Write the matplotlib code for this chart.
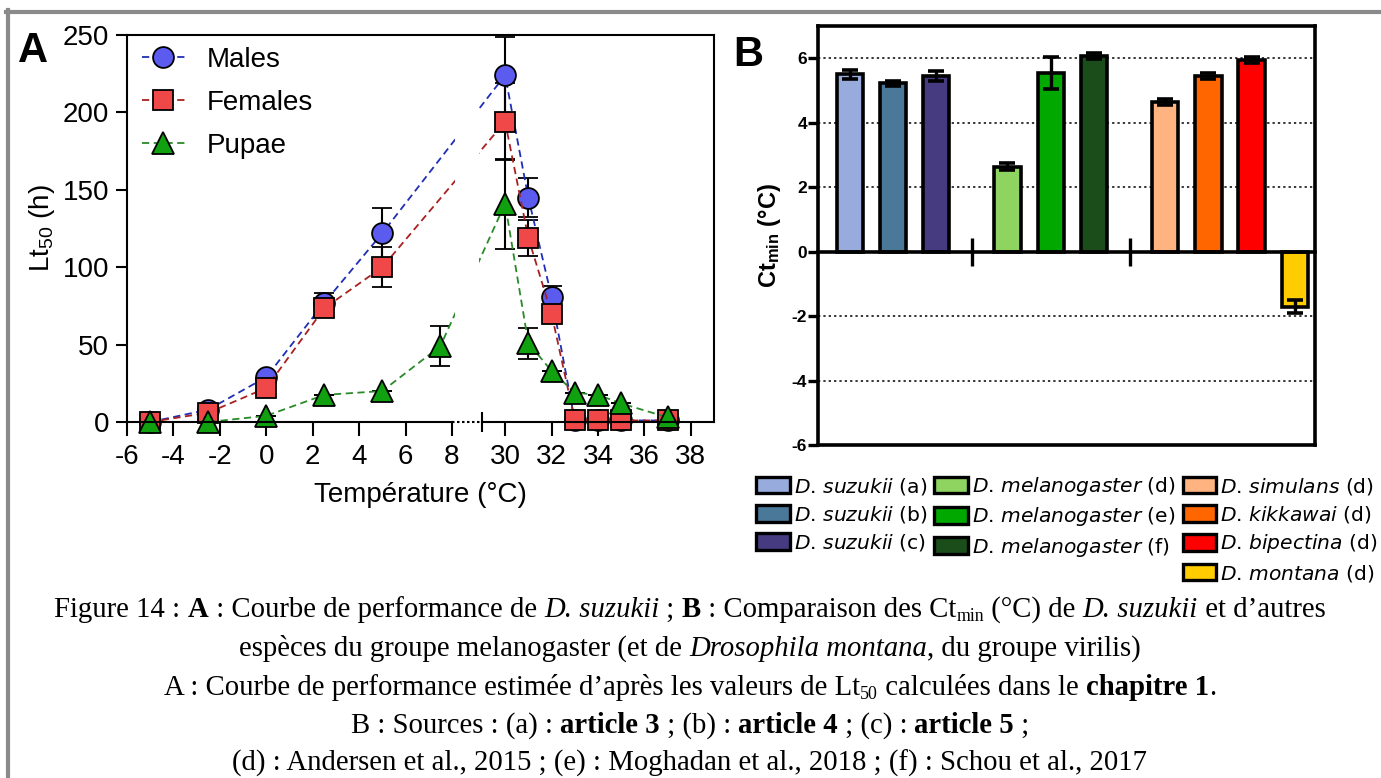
import numpy as np
import matplotlib
matplotlib.use('Agg')
import matplotlib.pyplot as plt
from matplotlib.lines import Line2D
from matplotlib.patches import Patch

plt.rcParams['font.family'] = ['Liberation Sans', 'DejaVu Sans']
plt.rcParams['mathtext.fontset'] = 'custom'
plt.rcParams['mathtext.rm'] = 'Liberation Sans'
plt.rcParams['mathtext.it'] = 'Liberation Sans:italic'
plt.rcParams['mathtext.bf'] = 'Liberation Sans:bold'

# ---- panel A data: Lt50 (h) vs temperature
temp_adults = [-5, -2.5, 0, 2.5, 5, 30, 31, 32, 33, 34, 35, 37]
males = [0, 8, 29, 77, 122, 224, 145, 81, 1, 1, 1, 1]
males_err = [0, 0, 0, 6.5, 16, 25, 12.5, 7, 0, 0, 0, 0]
females = [0, 6, 22, 73.5, 100, 194, 119, 70, 1.3, 1.3, 1, 1]
females_err = [0, 0, 0, 4, 13, 25, 11.5, 5, 0, 0, 0, 0]
temp_pupae = [-5, -2.5, 0, 2.5, 5, 7.5, 30, 31, 32, 33, 34, 35, 37]
pupae = [0, 0, 4, 17.5, 20, 49, 141, 51, 33, 19, 17.5, 12, 3]
pupae_err = [0, 0, 0, 0, 0, 13, 29, 10, 0, 0, 0, 0, 0]
xticks_a = [-6, -4, -2, 0, 2, 4, 6, 8, 30, 32, 34, 36, 38]

# ---- panel B data: Ctmin (°C)
species = ['D. suzukii', 'D. suzukii', 'D. suzukii',
           'D. melanogaster', 'D. melanogaster', 'D. melanogaster',
           'D. simulans', 'D. kikkawai', 'D. bipectina', 'D. montana']
sources = ['a', 'b', 'c', 'd', 'e', 'f', 'd', 'd', 'd', 'd']
ctmin = [5.50, 5.22, 5.44, 2.64, 5.55, 6.07, 4.64, 5.45, 5.94, -1.71]
ctmin_err = [0.15, 0.08, 0.15, 0.10, 0.50, 0.10, 0.10, 0.08, 0.10, 0.20]
group_sizes = [3, 3, 4]
bar_colors = ['#97acdc', '#4a7898', '#463a80', '#8fd460', '#00a800',
              '#1a4d1a', '#ffb380', '#ff6600', '#ff0000', '#ffcc00']

W, H = 1381, 778
fig = plt.figure(figsize=(W / 100, H / 100), dpi=100)


def px_box(l, t, r, b):
    return [l / W, 1 - b / H, (r - l) / W, (b - t) / H]


# broken x axis: 8 .. 29 squeezed into a short gap
LEFT_END, RIGHT_START, GAP_W = 8.0, 29.0, 1.29


def fwd(x):
    x = np.asarray(x, dtype=float)
    return np.where(x <= LEFT_END, x,
                    np.where(x >= RIGHT_START, x - RIGHT_START + LEFT_END + GAP_W,
                             LEFT_END + (x - LEFT_END) * GAP_W / (RIGHT_START - LEFT_END)))


def inv(u):
    u = np.asarray(u, dtype=float)
    return np.where(u <= LEFT_END, u,
                    np.where(u >= LEFT_END + GAP_W, u - LEFT_END - GAP_W + RIGHT_START,
                             LEFT_END + (u - LEFT_END) * (RIGHT_START - LEFT_END) / GAP_W))


axA = fig.add_axes(px_box(127, 35, 714, 422))
axA.set_xscale('function', functions=(fwd, inv))
axA.set_xlim(-6, 39)
axA.set_ylim(0, 250)

series = [
    (temp_adults, males, males_err, 'o', '#5b5bf0', '#1f2fb5', 'Males'),
    (temp_adults, females, females_err, 's', '#f04848', '#a82020', 'Females'),
    (temp_pupae, pupae, pupae_err, '^', '#10a010', '#2a8a2a', 'Pupae'),
]
handles, names = [], []
for t, v, e, m, fc, lc, lab in series:
    cont = axA.errorbar(t, v, yerr=e, fmt=m, ls=(0, (4, 2.5)), lw=1.3, color=lc,
                        mfc=fc, mec='k', ms=15 if m != '^' else 16, mew=1.3,
                        ecolor='k', elinewidth=1.5, capsize=7, capthick=1.5,
                        clip_on=False, zorder=3)
    for art in cont.lines[1] + cont.lines[2]:
        art.set_clip_on(False)
    handles.append(cont.lines[0])
    names.append(lab)

# hide the curves inside the axis break
axA.axvspan(10.1, 26.9, color='white', zorder=4, lw=0)
for sp in axA.spines.values():
    sp.set_linewidth(1.5)
    sp.set_zorder(5)
axA.spines['bottom'].set_visible(False)
axA.plot([-6, LEFT_END], [0, 0], color='k', lw=1.5, clip_on=False, zorder=6)
axA.plot([LEFT_END, RIGHT_START], [0, 0], color='k', lw=1.5, ls=(0, (1.2, 1.2)),
         clip_on=False, zorder=6)
axA.plot([RIGHT_START, 39], [0, 0], color='k', lw=1.5, clip_on=False, zorder=6)

axA.set_xticks(xticks_a, [str(v) for v in xticks_a])
axA.set_xticks([LEFT_END, RIGHT_START], minor=True)
axA.set_yticks(range(0, 251, 50))
axA.tick_params(axis='both', labelsize=20, width=1.5)
axA.tick_params(axis='y', length=8, pad=5)
axA.tick_params(axis='x', which='major', length=10, pad=6)
axA.tick_params(axis='x', which='minor', direction='inout', length=15, width=1.5)
axA.set_xlabel('Température (°C)', fontsize=20)
axA.xaxis.set_label_coords(0.5, -0.155)
axA.set_ylabel(r'Lt$_{\mathrm{50}}$ (h)', fontsize=20)
axA.yaxis.set_label_coords(-0.12, 0.5)
axA.legend(handles, names, loc='upper left', bbox_to_anchor=(0.025, 0.97),
           frameon=False, fontsize=20, numpoints=1, borderpad=0, borderaxespad=0,
           handlelength=1.55, handletextpad=0.8, labelspacing=0.62)

# ---- panel B
xpos = []
start = 0.0
for n in group_sizes:
    xpos.extend(start + np.arange(n))
    start += n + 0.65
xpos = np.array(xpos)
ends = np.cumsum(group_sizes)[:-1]
breaks = [(xpos[i - 1] + xpos[i]) / 2 for i in ends]

axB = fig.add_axes(px_box(818, 26, 1315, 445))
axB.bar(xpos, ctmin, width=0.61, color=bar_colors, edgecolor='k', linewidth=2.6,
        zorder=3)
axB.errorbar(xpos, ctmin, yerr=ctmin_err, fmt='none', ecolor='k', elinewidth=2.4,
             capsize=6, capthick=2.6, zorder=4)
axB.set_xlim(-0.734, 10.765)
axB.set_ylim(-6, 7)
axB.set_yticks(range(-6, 7, 2))
axB.set_yticklabels([str(v) for v in range(-6, 7, 2)], fontweight='bold')
axB.set_axisbelow(True)
axB.yaxis.grid(True, color='k', lw=1.1, ls=(0, (1.5, 2)))
for sp in axB.spines.values():
    sp.set_linewidth(2.6)
axB.spines['bottom'].set_position(('data', 0))
axB.spines['bottom'].set_zorder(5)
axB.axhline(-6, color='k', lw=2.6, clip_on=False, zorder=5)
axB.set_xticks(breaks, ['', ''])
axB.tick_params(axis='x', direction='inout', length=20, width=2.4)
axB.tick_params(axis='y', labelsize=12.5, length=7, width=2.4, pad=1)
axB.set_ylabel(r'Ct$_{\mathbf{min}}$ (°C)', fontsize=17, fontweight='bold',
               labelpad=6)

blank = Patch(facecolor='none', edgecolor='none')
patches = [Patch(facecolor=c, edgecolor='k', linewidth=2.4) for c in bar_colors]
labels = []
for sp_name, src in zip(species, sources):
    genus, epithet = sp_name.split('. ')
    labels.append('$\\mathit{' + genus + '}$. $\\mathit{' + epithet + '}$ (' + src + ')')
leg_h = patches[:3] + [blank] + patches[3:6] + [blank] + patches[6:]
leg_l = labels[:3] + [''] + labels[3:6] + [''] + labels[6:]
legB = fig.legend(leg_h, leg_l, ncol=3, loc='upper left',
                  bbox_to_anchor=(746 / W, 1 - 465 / H),
                  frameon=False, borderpad=0, handlelength=1.65,
                  handleheight=0.88, handletextpad=0.2, columnspacing=0.35,
                  labelspacing=0.36, prop={'family': 'DejaVu Sans', 'size': 14.6})
for t in legB.get_texts():
    t.set_math_fontfamily('dejavusans')

# ---- panel letters and frame
fig.text(18 / W, 1 - 62 / H, 'A', fontsize=30, fontweight='bold', va='baseline')
fig.text(733 / W, 1 - 66 / H, 'B', fontsize=30, fontweight='bold', va='baseline')
fig.add_artist(Line2D([6 / W, 1], [1 - 11.5 / H] * 2, color='#8a8a8a', lw=3,
                      transform=fig.transFigure))
fig.add_artist(Line2D([8 / W] * 2, [0, 1 - 10 / H], color='#8a8a8a', lw=3,
                      transform=fig.transFigure))

# ---- caption in mixed styles
caption = [
    [('Figure 14 : ', 'n'), ('A', 'b'), (' : Courbe de performance de ', 'n'),
     ('D. suzukii', 'i'), (' ; ', 'n'), ('B', 'b'), (' : Comparaison des Ct', 'n'),
     ('min', 's'), (' (°C) de ', 'n'), ('D. suzukii', 'i'), (' et d’autres', 'n')],
    [('espèces du groupe melanogaster (et de ', 'n'), ('Drosophila montana', 'i'),
     (', du groupe virilis)', 'n')],
    [('A : Courbe de performance estimée d’après les valeurs de Lt', 'n'), ('50', 's'),
     (' calculées dans le ', 'n'), ('chapitre 1', 'b'), ('.', 'n')],
    [('B : Sources : (a) : ', 'n'), ('article 3', 'b'), (' ; (b) : ', 'n'),
     ('article 4', 'b'), (' ; (c) : ', 'n'), ('article 5', 'b'), (' ;', 'n')],
    [('(d) : Andersen et al., 2015 ; (e) : Moghadan et al., 2018 ; (f) : Schou et al., 2017', 'n')],
]
baselines = [617, 656, 695, 733, 771]
cap_size = 20.7
renderer = fig.canvas.get_renderer()


def run_kw(style):
    kw = dict(family='Liberation Serif', fontsize=cap_size)
    if style == 'b':
        kw['fontweight'] = 'bold'
    elif style == 'i':
        kw['fontstyle'] = 'italic'
    elif style == 's':
        kw['fontsize'] = cap_size * 0.62
    return kw


def text_width(s, kw):
    t1 = fig.text(0, 0, '|' + s + '|', **kw)
    t2 = fig.text(0, 0, '||', **kw)
    w = t1.get_window_extent(renderer).width - t2.get_window_extent(renderer).width
    t1.remove()
    t2.remove()
    return w


for runs, base in zip(caption, baselines):
    widths = [text_width(s, run_kw(st)) for s, st in runs]
    x = 690 - sum(widths) / 2
    for (s, st), w in zip(runs, widths):
        y = base + (4 if st == 's' else 0)
        fig.text(x / W, 1 - y / H, s, va='baseline', **run_kw(st))
        x += w

fig.savefig('out.png', dpi=100)
